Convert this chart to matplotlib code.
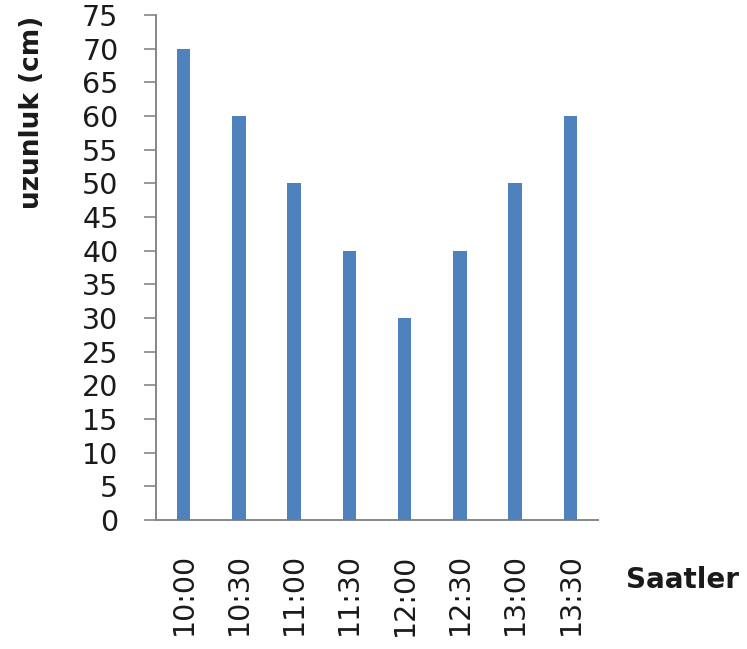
import matplotlib.pyplot as plt

saatler = ["10:00", "10:30", "11:00", "11:30", "12:00", "12:30", "13:00", "13:30"]
uzunluk = [70, 60, 50, 40, 30, 40, 50, 60]
y_ticks = list(range(0, 80, 5))

BAR = "#4f81bd"
AXIS = "#868686"

fig = plt.figure(figsize=(7.47, 6.49), dpi=100)
ax = fig.add_axes([156 / 747, 1 - 520 / 649, (598 - 156) / 747, (520 - 15) / 649])

x = range(len(saatler))
ax.bar(x, uzunluk, width=0.24, color=BAR, zorder=3)

ax.set_xlim(-0.5, len(saatler) - 0.5)
ax.set_ylim(0, 75)
ax.set_yticks(y_ticks)
ax.set_yticklabels([str(v) for v in y_ticks], fontsize=20.5, color="#1a1a1a")
ax.set_xticks(list(x))
ax.set_xticklabels(saatler, rotation=90, fontsize=20.5, color="#1a1a1a")
ax.tick_params(axis="y", length=9, width=1.2, color=AXIS, pad=18)
ax.tick_params(axis="x", length=0, pad=24)

for s in ("top", "right"):
    ax.spines[s].set_visible(False)
for s in ("left", "bottom"):
    ax.spines[s].set_color(AXIS)
    ax.spines[s].set_linewidth(1.4)

fig.text(32 / 747, 1 - 112 / 649, "uzunluk (cm)", rotation=90, ha="center",
         va="center", fontsize=19, fontweight="bold", color="#1a1a1a")
fig.text(626 / 747, 1 - 580 / 649, "Saatler", ha="left", va="center",
         fontsize=20, fontweight="bold", color="#1a1a1a")

fig.savefig("out.png", dpi=100, facecolor="white")
